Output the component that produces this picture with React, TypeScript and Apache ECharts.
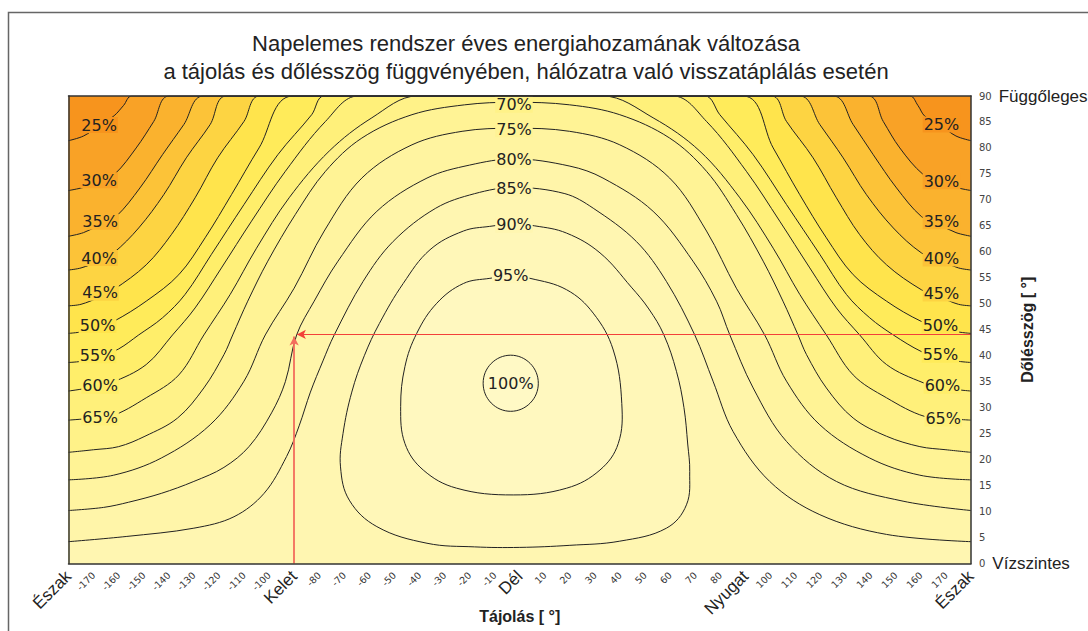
import React, { useEffect, useRef } from 'react';
import * as echarts from 'echarts';

// ---- data ----
// azimuth (Tájolás, degrees, -180..180) and tilt (Dőlésszög, degrees, 0..90)
const azimuthNames: Record<string, string> = { '-180': 'Észak', '-90': 'Kelet', '0': 'Dél', '90': 'Nyugat', '180': 'Észak' };
const tiltNames: Record<string, string> = { '0': 'Vízszintes', '90': 'Függőleges' };

const openLevels = [25, 30, 35, 40, 45, 50, 55, 60, 65, 70, 75, 80, 85];
const closedLevels = [90, 95, 100];

// open contour lines [azimuth, tilt] (left edge -> top / arch -> right edge)
const c25 = [[-180, 81.4], [-174, 82.3], [-168, 84.2], [-161.8, 86.2], [-158, 88.2], [-154.8, 90], [155.6, 90], [158.8, 88.2], [161.6, 86.1], [168, 84.3], [174, 82.3], [180, 81.4]];
const c30 = [[-180, 71.8], [-174, 72.4], [-168, 73.4], [-161.5, 75], [-153, 80], [-146, 85.1], [-139.8, 90], [139, 90], [145, 85.1], [151.6, 80], [160.9, 74.9], [168, 73.4], [174, 72.4], [180, 71.8]];
const c35 = [[-180, 63], [-174, 63.7], [-167, 65.3], [-161, 66.8], [-151.5, 72.3], [-142.5, 78.7], [-134, 84.5], [-126.2, 90], [125, 90], [133, 84.5], [141, 78.7], [150.3, 72.3], [160.2, 66.8], [167, 65.3], [174, 63.7], [180, 63]];
const c40 = [[-180, 56.5], [-175, 56.9], [-168, 58.2], [-162, 59.8], [-152, 64.6], [-142, 71], [-133, 78.1], [-123.5, 84.5], [-117, 90], [111.7, 90], [119.7, 84.5], [129, 78.1], [138.3, 71], [149, 64.6], [160.2, 59.8], [168, 58.2], [175, 56.9], [180, 56.5]];
const c45 = [[-180, 49.6], [-175, 49.9], [-168, 51.2], [-162, 52.7], [-149, 57.5], [-139, 63.3], [-129.5, 70.4], [-120.5, 78.1], [-110, 85.1], [-103.8, 90], [100.4, 90], [106.4, 85.1], [117, 78.1], [126.3, 70.4], [135.6, 63.3], [146.3, 57.5], [160.2, 52.7], [168, 51.2], [175, 49.9], [180, 49.6]];
const c50 = [[-180, 44.3], [-176, 44.5], [-170, 45], [-162, 46.6], [-149, 50.5], [-136, 55.6], [-125.5, 62.7], [-115, 71], [-104, 80], [-90.5, 90], [89.1, 90], [101.1, 80], [111.7, 71], [122.3, 62.7], [133, 55.6], [146.3, 50.5], [160.2, 46.6], [170, 45], [176, 44.5], [180, 44.3]];
const c55 = [[-180, 38.7], [-174, 39], [-166, 40.2], [-160, 41.3], [-152, 44], [-142.5, 47.3], [-133.5, 51.8], [-123, 59.5], [-110, 69.1], [-96.5, 78.7], [-83, 86.4], [-78, 90], [73.8, 90], [79.8, 86.4], [93.1, 78.7], [106.4, 69.1], [119.7, 59.5], [130.3, 51.8], [139.6, 47.3], [149, 44], [160.2, 40.8], [166, 40], [174, 39], [180, 38.7]];
const c60 = [[-180, 33.2], [-172, 33.8], [-163, 34.8], [-149, 38.3], [-138.5, 44], [-129.5, 49.2], [-119, 56.9], [-107, 65.9], [-93.5, 75.5], [-77.5, 85.1], [-64.5, 90], [61.2, 90], [74.5, 85.1], [90.4, 75.5], [103.7, 65.9], [115.7, 56.9], [126.3, 49.2], [135.6, 44], [146.3, 38.3], [160.9, 34.8], [168, 34], [174, 33.5], [180, 33.2]];
const c65 = [[-180, 27.6], [-172, 27.9], [-163.5, 28.3], [-149, 31.9], [-136, 36.3], [-126, 44], [-115.5, 51.8], [-105, 60.7], [-92, 70.4], [-76, 79.4], [-59, 85.8], [-41, 90], [33.2, 90], [53.2, 85.8], [71.8, 79.4], [87.8, 70.4], [101.1, 60.7], [111.7, 51.8], [122.3, 44], [133, 36.3], [146.3, 31.9], [161.6, 28.3], [170, 27.9], [180, 27.6]];
const c70 = [[-180, 21.4], [-170, 21.9], [-160, 22.5], [-149.5, 24.5], [-136.5, 28], [-126, 33.8], [-118, 40.2], [-114.5, 44], [-108.5, 50.5], [-100.5, 58.2], [-89.5, 67.2], [-77.5, 75.5], [-63, 81.9], [-43, 86.4], [-22, 88.3], [-2.3, 88.8], [19.9, 88.3], [39.9, 86.4], [59.8, 81.9], [74.5, 75.5], [86.4, 67.2], [97.1, 58.2], [105, 50.5], [111, 44], [114.4, 40.2], [122.3, 33.8], [133, 28], [146.3, 24.5], [159.6, 22.5], [170, 21.9], [180, 21.4]];
const c75 = [[-180, 16.1], [-162, 17], [-143, 20.3], [-123.5, 26.7], [-110, 35.1], [-101.5, 44], [-90, 53], [-78, 64], [-63, 74.2], [-43, 80.6], [-23, 83.2], [-2.3, 83.8], [19.9, 83.2], [39.9, 80.6], [59.8, 74.2], [74.5, 64], [86.4, 53], [97.7, 44], [106.4, 35.1], [119.7, 26.7], [139.6, 20.3], [159.6, 17], [180, 16.1]];
const c80 = [[-180, 10.2], [-166, 10.8], [-156, 11.8], [-143, 13.5], [-130, 15.8], [-118, 18.5], [-108, 22.5], [-99, 29], [-93.5, 35], [-89, 44], [-82, 50.5], [-72.5, 58.2], [-57, 67.8], [-37, 74.2], [-20, 76.7], [-2.3, 77.9], [20, 76.5], [33.2, 74.2], [53.2, 67.8], [69.1, 58.2], [78.5, 50.5], [83.8, 44], [93.1, 33.8], [106.4, 23.5], [126.3, 15.8], [152.9, 12], [180, 10.2]];
const c85 = [[-180, 4.2], [-157, 5.2], [-130, 6.8], [-114, 9], [-102, 13.5], [-93, 20.6], [-88, 26.5], [-83.5, 33], [-78.5, 39], [-74, 44], [-62.5, 54.3], [-50.5, 62], [-33.5, 68.4], [-18, 71.2], [-2.3, 72.4], [18, 71.2], [29.3, 68.4], [46.5, 62], [58.5, 54.3], [69.8, 44], [77.1, 35.1], [85.1, 25.4], [99.7, 15.8], [119.7, 9.4], [146.3, 5.6], [180, 4.2]];

// closed contour lines
const c90 = [[-3, 65.3], [-12, 64.9], [-22.5, 64], [-35.8, 60.4], [-46.5, 53.9], [-56, 46.2], [-62, 40], [-67, 33], [-70.5, 25], [-71.5, 18.6], [-68, 12.2], [-57, 7.1], [-37, 3.9], [-18, 3.2], [0, 3.1], [20, 3.5], [39.9, 4.3], [58.5, 6.8], [66.5, 11.3], [67.8, 17.7], [67, 23], [65.5, 30], [62.5, 37], [57.5, 44], [51.5, 49], [44.5, 53.2], [32, 59.8], [18.7, 63.6], [6, 65]];
const c95 = [[-3.8, 55.3], [-11.9, 54.9], [-22.5, 53.9], [-33.1, 50.1], [-41.1, 44.3], [-45.8, 37.9], [-47.5, 30.2], [-45.8, 23.1], [-38.5, 18], [-25.2, 14.5], [-2.6, 13.2], [18.7, 14.5], [32, 18], [39.3, 23.1], [40.7, 30.8], [37.3, 41.1], [29.3, 48.2], [18.7, 52.7], [4.1, 54.9]];
const c100 = [[-3.6, 40.1], [4.2, 38.5], [7.4, 34.7], [4.2, 30.9], [-3.6, 29.3], [-11.4, 30.9], [-14.6, 34.7], [-11.4, 38.5]];

// contour label anchors [azimuth, tilt, level]
const contourLabels = [
  [-167.8, 84.4, 25], [-167.8, 73.8, 30], [-167.4, 65.8, 35], [-167.8, 58.8, 40], [-167.4, 52.1, 45],
  [-168.4, 45.9, 50], [-168.4, 40.1, 55], [-167.4, 34.2, 60], [-167.4, 28.1, 65],
  [168.2, 84.5, 25], [168.2, 73.6, 30], [168.2, 65.9, 35], [168.2, 58.7, 40], [168.2, 52, 45],
  [167.8, 45.8, 50], [167.8, 40.2, 55], [168.6, 34.2, 60], [168.9, 27.9, 65],
  [-2.3, 88.3, 70], [-2.3, 83.6, 75], [-2.3, 77.7, 80], [-2.3, 72.2, 85], [-2.3, 65.2, 90],
  [-3.6, 55.5, 95], [-3.6, 34.7, 100],
];

// reading example (Kelet, 44°)
const examplePoint = [-90, 44];

const openContours = [c25, c30, c35, c40, c45, c50, c55, c60, c65, c70, c75, c80, c85];
const closedContours = [c90, c95, c100];

// fill colour for the band starting at each level (index 0: below 25%)
const bandColors = [
  '#f7941d', '#f9a226', '#fab22e', '#fcc338', '#fdd442', '#ffe44c', '#ffeb5a', '#ffee6a', '#fff07a',
  '#fff288', '#fff395', '#fff4a0', '#fff5a9', '#fff6b1', '#fff7b8', '#fff8bf', '#fff9c5',
];
const bandIndex = (level: number) => (level - 20) / 5;

const axisLineStyle = { color: '#333', width: 1.5 };

export default function App() {
  const ref = useRef<HTMLDivElement>(null);
  useEffect(() => {
    document.body.style.margin = '0';
    const chart = echarts.init(ref.current as HTMLDivElement, null, { renderer: 'svg' });

    const series: any[] = [];
    openContours.forEach((pts, i) => {
      series.push({
        type: 'line',
        data: pts,
        smooth: 0.35,
        symbol: 'none',
        silent: true,
        clip: true,
        z: 2,
        lineStyle: { color: '#222', width: 1 },
        areaStyle: { color: bandColors[bandIndex(openLevels[i])], opacity: 1, origin: 'start' },
      });
    });
    series.push({
      type: 'custom',
      coordinateSystem: 'cartesian2d',
      silent: true,
      z: 3,
      data: closedLevels.map(() => [0, 0]),
      renderItem: (params: any, api: any) => {
        const idx = params.dataIndex;
        const pts = closedContours[idx].map((p) => api.coord(p));
        return {
          type: 'polygon',
          shape: { points: pts, smooth: 0.38 },
          style: { fill: bandColors[bandIndex(closedLevels[idx])], stroke: '#222', lineWidth: 1 },
        };
      },
    });
    series.push({
      type: 'custom',
      coordinateSystem: 'cartesian2d',
      silent: true,
      z: 4,
      data: contourLabels.map(() => [0, 0]),
      renderItem: (params: any, api: any) => {
        const d = contourLabels[params.dataIndex];
        const p = api.coord([d[0], d[1]]);
        const lvl = d[2] as number;
        const bg = lvl === 100 ? bandColors[16] : bandColors[bandIndex(lvl) - 1];
        return {
          type: 'text',
          x: p[0],
          y: p[1],
          style: {
            text: lvl + '%',
            fill: '#222',
            font: '16px "DejaVu Sans"',
            align: 'center',
            verticalAlign: 'middle',
            textAlign: 'center',
            textVerticalAlign: 'middle',
            backgroundColor: bg,
            padding: [0, 1],
          },
        };
      },
    });
    series.push({
      type: 'line',
      data: [examplePoint],
      symbol: 'none',
      silent: true,
      z: 6,
      color: '#f2403a',
      lineStyle: { opacity: 0 },
      markLine: {
        silent: true,
        symbol: ['none', 'arrow'],
        symbolSize: [7, 9],
        label: { show: false },
        lineStyle: { color: '#f2403a', width: 1, type: 'solid', opacity: 1 },
        data: [
          [{ coord: [examplePoint[0], 0], lineStyle: { color: '#f36d5d', width: 1.8, type: 'solid', opacity: 1 } }, { coord: [examplePoint[0], examplePoint[1] - 0.3] }],
          [{ coord: [180, examplePoint[1] + 0.1], lineStyle: { color: '#f2403a', width: 1, type: 'solid', opacity: 1 } }, { coord: [examplePoint[0] + 1.1, examplePoint[1] + 0.1] }],
        ],
      },
    });

    const option: any = {
      animation: false,
      backgroundColor: '#ffffff',
      grid: { left: 68.5, top: 96, right: 117, bottom: 67.5, show: true, backgroundColor: bandColors[0], borderWidth: 0, outerBoundsMode: 'none', containLabel: false },
      xAxis: [
        {
          type: 'value', min: -180, max: 180, interval: 10, position: 'bottom', z: 10,
          axisLine: { show: true, onZero: false, lineStyle: axisLineStyle },
          axisTick: { show: false }, splitLine: { show: false },
          axisLabel: {
            rotate: 45, margin: 10, showMinLabel: true, showMaxLabel: true,
            formatter: (v: number) => (azimuthNames[String(v)] ? '{big|' + azimuthNames[String(v)] + '}' : '{small|' + v + '}'),
            rich: {
              big: { fontSize: 17, color: '#222', fontFamily: 'Liberation Sans' },
              small: { fontSize: 9.5, color: '#333', fontFamily: 'DejaVu Sans' },
            },
          },
          name: 'Tájolás [ °]', nameLocation: 'middle', nameGap: 45, nameMoveOverlap: false,
          nameTextStyle: { fontSize: 16, fontWeight: 'bold', color: '#222', fontFamily: 'Liberation Sans' },
        },
        {
          type: 'value', min: -180, max: 180, position: 'top', z: 10,
          axisLine: { show: true, onZero: false, lineStyle: axisLineStyle },
          axisTick: { show: false }, axisLabel: { show: false }, splitLine: { show: false },
        },
      ],
      yAxis: [
        {
          type: 'value', min: 0, max: 90, interval: 5, position: 'right', z: 10,
          axisLine: { show: true, onZero: false, lineStyle: axisLineStyle },
          axisTick: { show: false }, splitLine: { show: false },
          axisLabel: {
            margin: 8,
            formatter: (v: number) => (tiltNames[String(v)] ? '{s|' + v + '}{b|' + tiltNames[String(v)] + '}' : '{s|' + v + '}'),
            rich: {
              s: { fontSize: 10, color: '#444', fontFamily: 'DejaVu Sans' },
              b: { fontSize: 17, color: '#222', fontFamily: 'Liberation Sans', padding: [0, 0, 0, 7] },
            },
          },
          name: 'Dőlésszög [ °]', nameLocation: 'middle', nameRotate: 90, nameGap: 48, nameMoveOverlap: false,
          nameTextStyle: { fontSize: 16, fontWeight: 'bold', color: '#222', fontFamily: 'Liberation Sans' },
        },
        {
          type: 'value', min: 0, max: 90, position: 'left', z: 10,
          axisLine: { show: true, onZero: false, lineStyle: axisLineStyle },
          axisTick: { show: false }, axisLabel: { show: false }, splitLine: { show: false },
        },
      ],
      graphic: [
        {
          type: 'rect', silent: true, z: -10,
          shape: { x: 8.5, y: 12.5, width: 1400, height: 1000 },
          style: { fill: 'none', stroke: '#666', lineWidth: 1.5 },
        },
        {
          type: 'text', x: 526, y: 43, silent: true,
          style: { text: 'Napelemes rendszer éves energiahozamának változása', font: '22px "Liberation Sans"', fill: '#222', align: 'center', verticalAlign: 'middle', textAlign: 'center', textVerticalAlign: 'middle' },
        },
        {
          type: 'text', x: 526, y: 71, silent: true,
          style: { text: 'a tájolás és dőlésszög függvényében, hálózatra való visszatáplálás esetén', font: '22px "Liberation Sans"', fill: '#222', align: 'center', verticalAlign: 'middle', textAlign: 'center', textVerticalAlign: 'middle' },
        },
      ],
      series,
    };
    chart.setOption(option);
    return () => chart.dispose();
  }, []);
  return <div ref={ref} style={{ width: 1088, height: 631 }} />;
}
